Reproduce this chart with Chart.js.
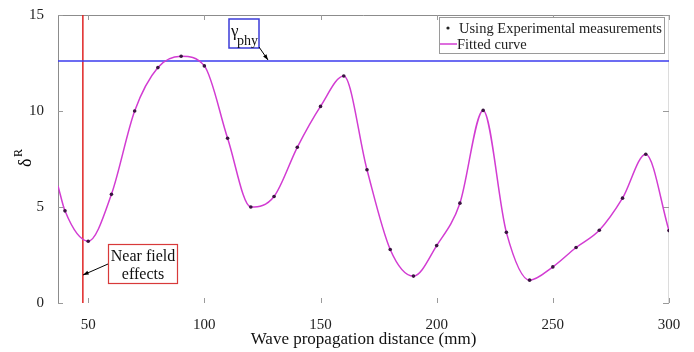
<!DOCTYPE html>
<html><head><meta charset="utf-8">
<script src="https://cdn.jsdelivr.net/npm/chart.js@4/dist/chart.umd.min.js"></script>
<style>html,body{margin:0;padding:0;background:#fff}#wrap{width:694px;height:352px}</style>
</head><body><div id="wrap"><canvas id="c" width="694" height="352"></canvas></div>
<script>
// Data
const distances = [40,50,60,70,80,90,100,110,120,130,140,150,160,170,180,190,200,210,220,230,240,250,260,270,280,290,300];
const measured  = [4.8,3.22,5.66,10.0,12.26,12.85,12.35,8.58,5.0,5.55,8.11,10.24,11.82,6.94,2.79,1.40,2.99,5.2,10.03,3.68,1.19,1.88,2.89,3.79,5.46,7.75,3.77];
const fitStartX = [37];
const fitStartY = [6.1];
const gammaPhy = 12.6;
const nearFieldX = 47.7;
const xTicks = [50,100,150,200,250,300];
const yTicks = [0,5,10,15];
const X_MIN = 37, X_MAX = 300, Y_MIN = 0, Y_MAX = 15;

const pts = distances.map((x,i)=>({x, y: measured[i]}));
const fitPts = fitStartX.map((x,i)=>({x, y: fitStartY[i]})).concat(pts);
const FONT = "'Liberation Serif', 'Times New Roman', serif";

const decor = {
  id: 'decor',
  beforeDatasetsDraw(chart) {
    const {ctx, chartArea: a} = chart;
    ctx.save();
    ctx.lineWidth = 1;
    ctx.strokeStyle = '#8c8c8c';
    ctx.beginPath(); ctx.moveTo(a.left+0.5, a.bottom); ctx.lineTo(a.left+0.5, a.top+0.5); ctx.lineTo(a.right, a.top+0.5); ctx.stroke();
    ctx.strokeStyle = '#dcdcdc';
    ctx.beginPath(); ctx.moveTo(a.right-0.5, a.top); ctx.lineTo(a.right-0.5, a.bottom); ctx.stroke();
    const xs = chart.scales.x, ys = chart.scales.y;
    ctx.strokeStyle = '#9a9a9a';
    xTicks.forEach(v=>{
      const px = Math.round(xs.getPixelForValue(v))+0.5;
      ctx.beginPath(); ctx.moveTo(px, a.top); ctx.lineTo(px, a.top+5); ctx.stroke();
      ctx.beginPath(); ctx.moveTo(px, a.bottom); ctx.lineTo(px, a.bottom-5); ctx.stroke();
    });
    yTicks.forEach(v=>{
      const py = Math.round(ys.getPixelForValue(v))+0.5;
      ctx.beginPath(); ctx.moveTo(a.left, py); ctx.lineTo(a.left+5, py); ctx.stroke();
      ctx.beginPath(); ctx.moveTo(a.right, py); ctx.lineTo(a.right-6, py); ctx.stroke();
    });
    ctx.restore();
  },
  afterDatasetsDraw(chart) {
    const {ctx} = chart;
    ctx.save();
    ctx.fillStyle = '#000';
    ctx.textBaseline = 'alphabetic';
    // y axis title: delta^R rotated
    ctx.save();
    ctx.translate(31, 167);
    ctx.rotate(-Math.PI/2);
    ctx.font = '18px ' + FONT;
    ctx.fillText('\u03B4', 0, 0);
    ctx.font = '12px ' + FONT;
    ctx.fillText('R', 10, -9);
    ctx.restore();

    // legend
    ctx.fillStyle = '#fff';
    ctx.fillRect(439.5, 17.5, 225, 36);
    ctx.strokeStyle = '#9a9a9a'; ctx.lineWidth = 1;
    ctx.strokeRect(439.5, 17.5, 225, 36);
    ctx.fillStyle = '#222';
    ctx.beginPath(); ctx.arc(448, 28, 1.6, 0, Math.PI*2); ctx.fill();
    ctx.font = '14.5px ' + FONT;
    ctx.fillText('Using Experimental measurements', 459, 33);
    ctx.strokeStyle = '#d23cd2'; ctx.lineWidth = 1.5;
    ctx.beginPath(); ctx.moveTo(440, 44); ctx.lineTo(457, 44); ctx.stroke();
    ctx.fillStyle = '#222';
    ctx.fillText('Fitted curve', 457, 49);

    // gamma_phy box
    ctx.strokeStyle = '#3b3bd8'; ctx.lineWidth = 1.5;
    ctx.strokeRect(229, 19, 30, 29);
    ctx.fillStyle = '#111';
    ctx.font = '17px ' + FONT;
    ctx.fillText('\u03B3', 231, 36);
    ctx.font = '14px ' + FONT;
    ctx.fillText('phy', 237, 45);
    drawArrow(ctx, 259, 47, 268, 60);

    // near field box
    ctx.strokeStyle = '#d83a3a'; ctx.lineWidth = 1.2;
    ctx.strokeRect(108.5, 244.5, 69, 39);
    ctx.fillStyle = '#111';
    ctx.font = '16px ' + FONT;
    ctx.textAlign = 'center';
    ctx.fillText('Near field', 143, 261);
    ctx.fillText('effects', 143, 279);
    ctx.textAlign = 'left';
    drawArrow(ctx, 108, 264, 83, 275);
    ctx.restore();
  }
};
function drawArrow(ctx, x1, y1, x2, y2) {
  ctx.save();
  ctx.strokeStyle = '#000'; ctx.fillStyle = '#000'; ctx.lineWidth = 1;
  ctx.beginPath(); ctx.moveTo(x1, y1); ctx.lineTo(x2, y2); ctx.stroke();
  const ang = Math.atan2(y2-y1, x2-x1), L = 6, W = 0.35;
  ctx.beginPath();
  ctx.moveTo(x2, y2);
  ctx.lineTo(x2 - L*Math.cos(ang-W), y2 - L*Math.sin(ang-W));
  ctx.lineTo(x2 - L*Math.cos(ang+W), y2 - L*Math.sin(ang+W));
  ctx.closePath(); ctx.fill();
  ctx.restore();
}

new Chart(document.getElementById('c'), {
  type: 'scatter',
  data: {
    datasets: [
      { label: 'Fitted curve', data: fitPts, showLine: true, borderColor: '#d23cd2', borderWidth: 1.5,
        pointRadius: 0, cubicInterpolationMode: 'monotone', order: 2 },
      { label: 'Using Experimental measurements', data: pts, showLine: false, pointRadius: 1.8,
        backgroundColor: '#3a1440', borderColor: '#3a1440', borderWidth: 0, order: 1 },
      { label: 'gamma', data: [{x: X_MIN, y: gammaPhy}, {x: X_MAX, y: gammaPhy}], showLine: true,
        borderColor: '#3b3bee', borderWidth: 1.5, pointRadius: 0, order: 3 },
      { label: 'near', data: [{x: nearFieldX, y: Y_MIN}, {x: nearFieldX, y: Y_MAX}], showLine: true,
        borderColor: '#e02424', borderWidth: 1.5, pointRadius: 0, order: 3 }
    ]
  },
  options: {
    responsive: false, animation: false,
    layout: { padding: { top: 13, right: 25, left: 0, bottom: 0 } },
    plugins: { legend: { display: false }, tooltip: { enabled: false } },
    scales: {
      x: { type: 'linear', min: X_MIN, max: X_MAX,
        afterBuildTicks: s => { s.ticks = xTicks.map(v=>({value: v})); },
        afterFit: s => { s.height = 49; },
        grid: { display: false }, border: { display: false },
        ticks: { color: '#222', font: { family: FONT, size: 15 }, padding: 5, maxRotation: 0 },
        title: { display: true, text: 'Wave propagation distance (mm)', color: '#111',
          font: { family: FONT, size: 17 }, padding: { top: 0, bottom: 2 } } },
      y: { min: Y_MIN, max: Y_MAX,
        afterBuildTicks: s => { s.ticks = yTicks.map(v=>({value: v})); },
        afterFit: s => { s.width = 58; },
        grid: { display: false }, border: { display: false },
        ticks: { color: '#222', font: { family: FONT, size: 15 }, padding: 6 } }
    }
  },
  plugins: [decor]
});
</script>
</body></html>
